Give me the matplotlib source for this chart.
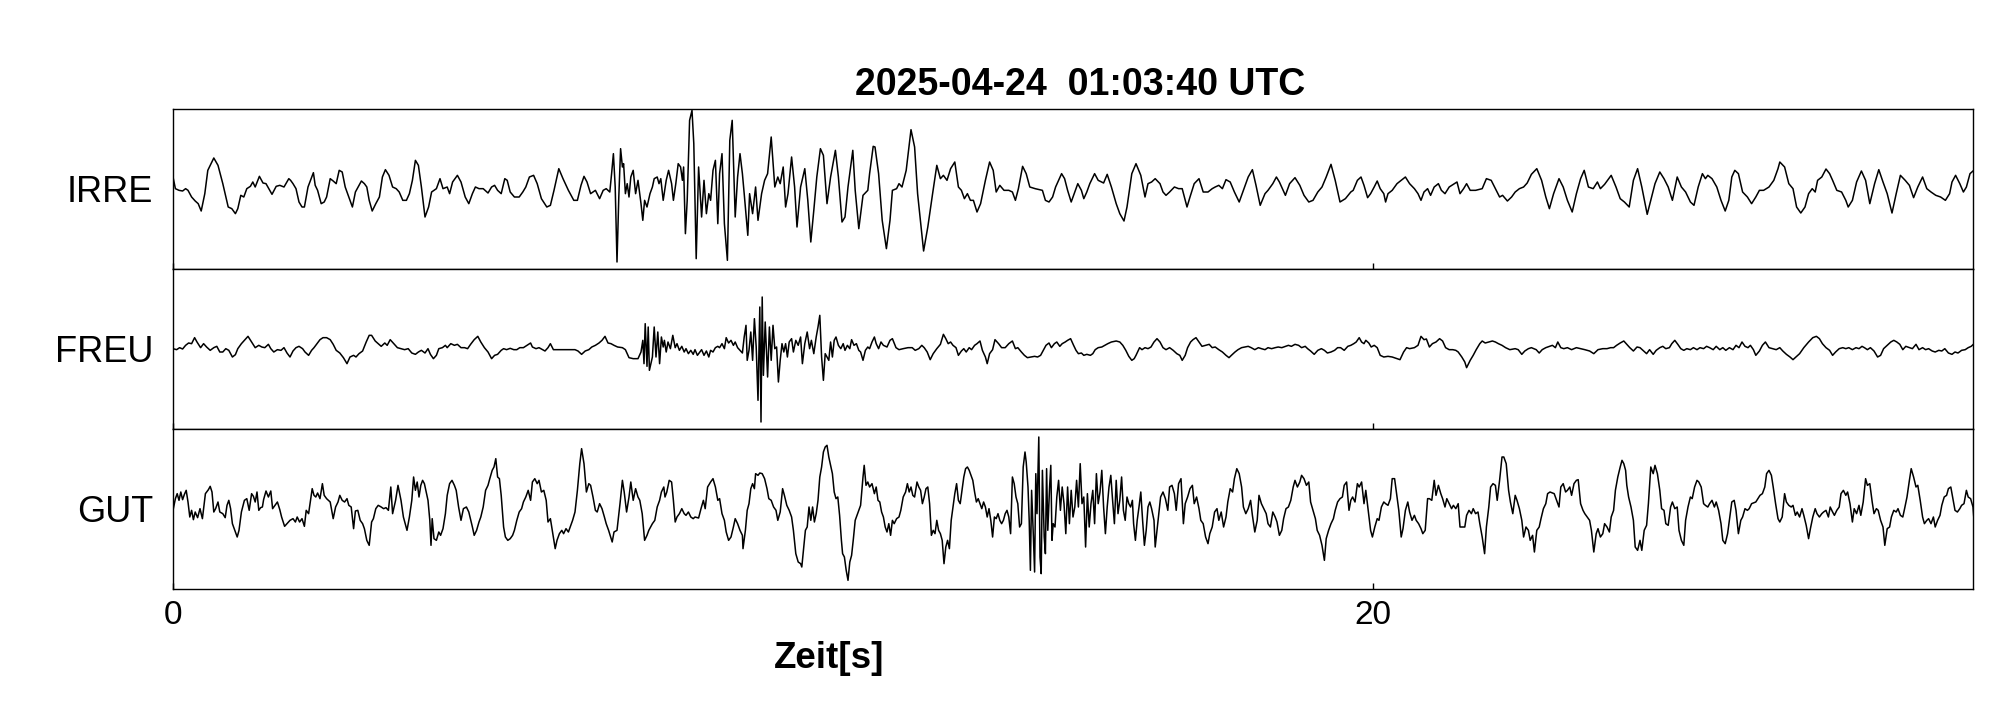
import numpy as np
import matplotlib
matplotlib.use("Agg")
import matplotlib.pyplot as plt

plt.rcParams['font.family'] = ['Liberation Sans', 'DejaVu Sans']

title = "2025-04-24  01:03:40 UTC"
xlabel = "Zeit[s]"
stations = ["IRRE", "FREU", "GUT"]
xticks = [0, 20]

# (time [s], amplitude [counts])
irre = [(0.00,36),(0.04,1),(0.10,-4),(0.16,-6),(0.21,1),(0.25,-4),(0.31,-24),(0.37,-36),(0.42,-44),(0.47,-66),
        (0.53,-14),(0.58,56),(0.68,93),(0.75,71),(0.83,16),(0.92,-54),(0.98,-59),(1.04,-74),(1.08,-59),(1.13,-19),
        (1.18,-24),(1.23,1),(1.29,8),(1.33,21),(1.37,6),(1.44,38),(1.50,18),(1.55,16),(1.65,-16),(1.72,8),
        (1.78,11),(1.85,6),(1.93,31),(1.96,26),(2.00,16),(2.05,1),(2.10,-39),(2.15,-54),(2.19,-54),(2.25,6),
        (2.34,49),(2.37,11),(2.41,-4),(2.47,-44),(2.52,-39),(2.56,-24),(2.62,31),(2.67,24),(2.72,16),(2.77,56),
        (2.82,51),(2.87,6),(2.95,-34),(2.99,-54),(3.04,-9),(3.14,24),(3.19,16),(3.23,6),(3.27,-34),(3.32,-66),
        (3.38,-44),(3.44,-24),(3.49,36),(3.54,58),(3.60,41),(3.66,6),(3.72,1),(3.77,-9),(3.83,-34),(3.89,-34),
        (3.94,-14),(3.99,26),(4.04,86),(4.09,71),(4.14,6),(4.20,-84),(4.26,-54),(4.31,-9),(4.39,1),(4.45,31),
        (4.50,1),(4.57,6),(4.61,-14),(4.66,21),(4.74,41),(4.80,21),(4.87,-24),(4.93,-44),(4.99,-14),(5.04,6),
        (5.10,1),(5.17,1),(5.25,-12),(5.31,6),(5.36,11),(5.41,-4),(5.47,-14),(5.53,31),(5.57,26),(5.62,-9),
        (5.69,-24),(5.77,-24),(5.83,-9),(5.88,6),(5.94,36),(6.01,41),(6.07,16),(6.14,-29),(6.23,-54),(6.29,-49),
        (6.35,-4),(6.43,61),(6.50,31),(6.59,-4),(6.68,-34),(6.74,-34),(6.80,11),(6.85,38),(6.90,21),(6.96,-14),
        (7.04,-4),(7.11,-29),(7.17,-4),(7.22,1),(7.28,-9),(7.31,46),(7.34,106),(7.37,6),(7.40,-219),(7.43,-24),
        (7.46,121),(7.49,66),(7.51,76),(7.54,-14),(7.57,16),(7.60,-24),(7.63,36),(7.67,56),(7.71,-14),(7.75,26),
        (7.80,-44),(7.83,-94),(7.86,-34),(7.90,-54),(7.95,-14),(7.99,6),(8.02,31),(8.07,36),(8.10,16),(8.13,31),
        (8.17,-34),(8.22,26),(8.26,56),(8.31,16),(8.34,-34),(8.38,16),(8.42,76),(8.46,66),(8.49,26),(8.51,66),
        (8.54,-134),(8.57,-34),(8.61,206),(8.65,236),(8.68,136),(8.72,-209),(8.76,66),(8.81,-84),(8.85,26),(8.89,-74),
        (8.93,-14),(8.96,-34),(9.00,56),(9.04,86),(9.08,-104),(9.11,46),(9.15,106),(9.19,-104),(9.24,-214),(9.28,146),
        (9.32,206),(9.37,-84),(9.41,36),(9.45,106),(9.49,46),(9.52,-14),(9.58,-139),(9.61,-14),(9.66,-74),(9.71,6),
        (9.75,-94),(9.81,-14),(9.86,26),(9.91,46),(9.97,156),(10.03,6),(10.08,36),(10.12,16),(10.17,66),(10.21,-54),
        (10.25,-14),(10.31,96),(10.36,6),(10.40,-114),(10.46,6),(10.53,61),(10.58,-34),(10.63,-159),(10.68,-64),(10.73,36),
        (10.79,121),(10.84,101),(10.90,-44),(10.96,36),(11.04,116),(11.09,36),(11.15,-99),(11.20,-84),(11.25,6),(11.33,116),
        (11.37,-4),(11.43,-119),(11.50,-19),(11.58,-4),(11.61,46),(11.67,128),(11.70,126),(11.76,46),(11.82,-94),(11.89,-179),
        (11.95,-94),(11.99,-4),(12.06,1),(12.10,16),(12.15,6),(12.22,56),(12.30,178),(12.36,126),(12.41,-14),(12.51,-186),
        (12.58,-114),(12.66,-14),(12.73,71),(12.79,31),(12.84,41),(12.90,26),(12.96,61),(13.03,81),(13.09,6),(13.14,-4),
        (13.19,-29),(13.24,-14),(13.29,-34),(13.34,-34),(13.40,-69),(13.46,-44),(13.54,26),(13.61,81),(13.67,56),(13.72,-9),
        (13.78,11),(13.85,-4),(13.93,-4),(13.99,-9),(14.04,-34),(14.09,1),(14.16,68),(14.22,46),(14.28,6),(14.37,1),
        (14.49,-4),(14.54,-34),(14.60,-39),(14.66,-24),(14.71,6),(14.81,46),(14.86,31),(14.91,-4),(14.97,-39),(15.03,-9),
        (15.08,16),(15.14,-4),(15.18,-29),(15.23,-9),(15.28,16),(15.36,46),(15.42,26),(15.51,18),(15.57,44),(15.64,6),
        (15.72,-44),(15.78,-74),(15.85,-96),(15.90,-54),(15.98,46),(16.05,76),(16.13,41),(16.20,-24),(16.25,16),(16.31,21),
        (16.37,31),(16.45,16),(16.50,-9),(16.55,-19),(16.61,-9),(16.69,6),(16.76,1),(16.82,1),(16.90,-54),(16.95,-24),
        (17.02,16),(17.10,31),(17.17,-9),(17.25,-9),(17.32,1),(17.37,6),(17.43,11),(17.49,1),(17.55,28),(17.62,21),
        (17.69,-9),(17.77,-39),(17.84,-4),(17.92,36),(17.99,58),(18.05,11),(18.12,-49),(18.20,-14),(18.25,-4),(18.33,16),
        (18.39,36),(18.44,21),(18.54,-19),(18.61,16),(18.70,34),(18.78,11),(18.85,-19),(18.93,-39),(19.00,-34),(19.08,-9),
        (19.15,6),(19.22,36),(19.30,74),(19.37,26),(19.45,-39),(19.54,-29),(19.63,-9),(19.67,-4),(19.74,26),(19.80,36),
        (19.85,11),(19.91,-26),(19.96,-14),(20.02,6),(20.07,24),(20.12,1),(20.18,-14),(20.21,-39),(20.25,-14),(20.32,-4),
        (20.40,16),(20.47,26),(20.54,36),(20.61,16),(20.69,1),(20.75,-14),(20.80,-34),(20.85,-9),(20.91,1),(20.96,-19),
        (21.02,6),(21.09,16),(21.14,-4),(21.20,-14),(21.27,6),(21.34,14),(21.40,21),(21.45,-14),(21.51,1),(21.56,16),
        (21.62,-4),(21.71,-4),(21.82,1),(21.89,31),(21.97,26),(22.04,1),(22.11,-24),(22.16,-19),(22.24,-36),(22.31,-24),
        (22.37,-9),(22.44,1),(22.51,6),(22.57,18),(22.64,44),(22.73,61),(22.81,26),(22.88,-24),(22.94,-59),(23.01,-14),
        (23.10,31),(23.17,6),(23.24,-34),(23.32,-69),(23.39,-14),(23.46,31),(23.52,56),(23.59,6),(23.67,1),(23.74,21),
        (23.79,1),(23.86,14),(23.97,41),(24.05,6),(24.12,-29),(24.19,-39),(24.27,-54),(24.34,26),(24.41,61),(24.48,6),
        (24.57,-76),(24.63,-34),(24.70,16),(24.78,51),(24.85,31),(24.92,6),(24.99,-34),(25.07,36),(25.14,6),(25.21,-9),
        (25.29,-39),(25.35,-49),(25.42,6),(25.49,46),(25.54,31),(25.58,41),(25.65,31),(25.73,6),(25.80,-34),(25.87,-66),
        (25.93,-34),(25.98,36),(26.03,56),(26.09,46),(26.16,-9),(26.24,-24),(26.31,-44),(26.38,-24),(26.44,-4),(26.51,-4),
        (26.60,6),(26.68,26),(26.75,61),(26.78,81),(26.86,66),(26.93,16),(27.00,1),(27.06,-54),(27.13,-72),(27.20,-54),
        (27.26,-14),(27.32,1),(27.37,-9),(27.41,26),(27.48,36),(27.55,60),(27.61,46),(27.66,26),(27.73,-4),(27.81,-9),
        (27.88,-34),(27.92,-54),(27.99,-34),(28.06,21),(28.14,54),(28.21,26),(28.28,-44),(28.36,16),(28.43,58),(28.50,21),
        (28.57,-14),(28.65,-72),(28.72,-14),(28.79,41),(28.87,26),(28.94,11),(29.01,-26),(29.08,6),(29.16,36),(29.23,1),
        (29.30,-9),(29.38,-19),(29.46,-24),(29.54,-34),(29.61,-14),(29.65,21),(29.71,41),(29.78,16),(29.84,-9),(29.89,6),
        (29.95,46),(30.00,54)]

freu = [(0.00,1),(0.06,-2),(0.11,4),(0.16,0),(0.21,11),(0.26,18),(0.31,16),(0.36,34),(0.40,21),(0.46,4),
        (0.51,16),(0.56,6),(0.62,-4),(0.68,4),(0.73,8),(0.78,-9),(0.83,-9),(0.88,1),(0.93,-4),(0.99,-24),
        (1.04,-17),(1.08,1),(1.14,16),(1.20,28),(1.25,38),(1.31,21),(1.37,4),(1.43,11),(1.48,6),(1.53,4),
        (1.59,14),(1.63,1),(1.68,-9),(1.74,-2),(1.80,-4),(1.85,4),(1.90,-12),(1.95,-24),(2.00,-6),(2.05,4),
        (2.10,8),(2.16,1),(2.20,-9),(2.26,-19),(2.31,-4),(2.35,4),(2.40,16),(2.45,28),(2.50,34),(2.56,34),
        (2.62,28),(2.67,14),(2.72,-4),(2.78,-12),(2.84,-26),(2.90,-44),(2.95,-24),(3.01,-19),(3.05,-24),(3.10,-14),
        (3.16,-6),(3.22,21),(3.27,41),(3.31,41),(3.37,24),(3.42,16),(3.47,8),(3.53,18),(3.57,11),(3.62,28),
        (3.68,16),(3.74,4),(3.80,1),(3.86,-2),(3.92,1),(3.98,-12),(4.04,-16),(4.09,-9),(4.14,-4),(4.20,-12),
        (4.25,1),(4.29,-16),(4.34,-29),(4.39,-19),(4.43,1),(4.49,4),(4.54,11),(4.57,4),(4.63,16),(4.69,11),
        (4.74,14),(4.80,4),(4.86,4),(4.91,1),(4.96,14),(5.02,28),(5.08,38),(5.13,21),(5.19,4),(5.25,-9),
        (5.31,-29),(5.36,-19),(5.41,-16),(5.47,-4),(5.51,1),(5.56,-2),(5.62,2),(5.68,-2),(5.73,-2),(5.78,4),
        (5.84,4),(5.90,11),(5.96,18),(5.99,6),(6.05,1),(6.10,4),(6.16,-2),(6.20,-6),(6.25,4),(6.29,16),
        (6.34,-2),(6.40,-2),(6.51,-2),(6.63,-2),(6.70,-2),(6.75,-6),(6.81,-16),(6.87,-6),(6.93,-2),(6.98,6),
        (7.04,11),(7.10,18),(7.15,26),(7.20,38),(7.25,18),(7.30,16),(7.35,11),(7.41,6),(7.49,4),(7.54,-2),
        (7.60,-26),(7.67,-29),(7.75,-29),(7.80,-9),(7.83,26),(7.85,-44),(7.87,76),(7.90,-52),(7.92,66),(7.94,-64),
        (7.99,-24),(8.02,66),(8.05,-24),(8.08,51),(8.11,-44),(8.14,36),(8.17,6),(8.19,26),(8.22,-9),(8.25,21),
        (8.29,1),(8.33,41),(8.37,4),(8.40,16),(8.44,-4),(8.48,8),(8.52,-9),(8.55,1),(8.59,-14),(8.63,-4),
        (8.67,-16),(8.70,-2),(8.74,-19),(8.78,-9),(8.81,-2),(8.85,-19),(8.89,-6),(8.93,-24),(8.96,-4),(9.00,-9),
        (9.04,4),(9.08,8),(9.11,4),(9.15,16),(9.19,1),(9.22,34),(9.26,18),(9.30,26),(9.34,11),(9.37,21),
        (9.41,4),(9.45,-4),(9.49,-12),(9.52,36),(9.55,71),(9.57,-34),(9.60,-4),(9.63,51),(9.66,-34),(9.69,91),
        (9.72,6),(9.75,-154),(9.78,126),(9.80,-219),(9.82,156),(9.84,-79),(9.87,81),(9.91,-84),(9.94,66),(9.97,-34),
        (10.00,71),(10.03,1),(10.06,6),(10.09,-99),(10.12,-34),(10.15,16),(10.18,-9),(10.21,16),(10.24,-24),(10.27,21),
        (10.31,31),(10.34,-9),(10.38,26),(10.42,11),(10.46,36),(10.49,-44),(10.53,16),(10.57,51),(10.61,1),(10.64,26),
        (10.68,-14),(10.72,36),(10.75,66),(10.78,101),(10.81,-24),(10.84,-94),(10.87,-14),(10.90,-24),(10.93,-34),(10.96,21),
        (10.99,-24),(11.02,26),(11.05,36),(11.09,11),(11.13,1),(11.17,16),(11.20,-4),(11.24,11),(11.28,1),(11.31,28),
        (11.35,11),(11.39,16),(11.43,-4),(11.46,-9),(11.50,-34),(11.54,-4),(11.58,6),(11.61,1),(11.65,21),(11.69,36),
        (11.72,16),(11.76,1),(11.80,21),(11.84,11),(11.90,6),(11.95,26),(11.99,31),(12.05,4),(12.10,-2),(12.17,1),
        (12.25,4),(12.32,4),(12.37,-4),(12.43,1),(12.48,11),(12.52,4),(12.57,-9),(12.62,-32),(12.67,-14),(12.73,1),
        (12.79,14),(12.84,44),(12.88,31),(12.92,16),(12.96,21),(13.00,11),(13.05,4),(13.09,-19),(13.14,-6),(13.18,1),
        (13.22,-9),(13.27,4),(13.31,-2),(13.36,11),(13.40,16),(13.45,24),(13.49,-4),(13.54,-24),(13.57,-44),(13.61,-14),
        (13.66,-2),(13.70,28),(13.76,16),(13.81,4),(13.87,4),(13.93,16),(13.99,24),(14.04,1),(14.08,4),(14.14,-9),
        (14.19,-19),(14.24,-26),(14.30,-24),(14.36,-22),(14.41,-24),(14.46,-19),(14.51,-2),(14.55,11),(14.60,18),(14.64,4),
        (14.69,16),(14.73,21),(14.78,8),(14.82,16),(14.87,21),(14.91,26),(14.96,31),(15.01,11),(15.05,-4),(15.09,-14),
        (15.14,-12),(15.18,-19),(15.23,-16),(15.29,-19),(15.33,-14),(15.37,-2),(15.42,4),(15.48,6),(15.53,11),(15.58,16),
        (15.64,21),(15.72,24),(15.78,21),(15.83,11),(15.88,-4),(15.93,-22),(15.98,-34),(16.02,-29),(16.05,-19),(16.11,4),
        (16.15,-2),(16.20,4),(16.25,1),(16.30,6),(16.35,21),(16.40,31),(16.45,21),(16.50,4),(16.55,-2),(16.61,4),
        (16.67,-4),(16.73,-14),(16.78,-19),(16.82,-34),(16.87,-19),(16.91,4),(16.96,21),(17.00,28),(17.05,34),(17.10,21),
        (17.15,8),(17.21,11),(17.27,14),(17.32,4),(17.37,6),(17.43,-2),(17.49,-9),(17.55,-19),(17.60,-26),(17.64,-19),
        (17.70,-9),(17.75,-2),(17.81,4),(17.87,6),(17.92,8),(17.97,4),(18.03,-2),(18.09,4),(18.14,1),(18.20,-2),
        (18.25,4),(18.31,1),(18.37,4),(18.42,6),(18.48,4),(18.54,8),(18.59,11),(18.64,8),(18.70,14),(18.76,11),
        (18.81,4),(18.87,8),(18.91,1),(18.96,-6),(19.02,-16),(19.08,-4),(19.14,1),(19.19,-4),(19.24,-12),(19.30,-9),
        (19.36,-4),(19.41,4),(19.46,4),(19.52,-4),(19.58,8),(19.63,11),(19.68,16),(19.72,21),(19.77,34),(19.81,21),
        (19.85,16),(19.88,26),(19.93,18),(19.97,6),(20.02,11),(20.07,4),(20.12,-19),(20.18,-24),(20.25,-22),(20.32,-24),
        (20.40,-29),(20.45,-32),(20.51,-9),(20.56,4),(20.61,1),(20.69,4),(20.75,11),(20.80,38),(20.85,28),(20.89,30),
        (20.94,6),(20.99,16),(21.05,21),(21.11,31),(21.16,24),(21.21,4),(21.27,-2),(21.33,-2),(21.38,-4),(21.42,-9),
        (21.48,-24),(21.53,-39),(21.56,-56),(21.62,-34),(21.67,-19),(21.72,-2),(21.78,16),(21.82,24),(21.87,18),(21.93,21),
        (21.99,24),(22.04,21),(22.09,16),(22.15,11),(22.21,4),(22.28,-2),(22.37,1),(22.42,-2),(22.48,-16),(22.53,-6),
        (22.59,1),(22.64,4),(22.72,-2),(22.77,-12),(22.82,-2),(22.88,4),(22.94,8),(22.99,11),(23.04,4),(23.08,21),
        (23.13,4),(23.18,1),(23.24,4),(23.31,-2),(23.39,4),(23.46,1),(23.53,-2),(23.61,-6),(23.68,-14),(23.75,-2),
        (23.83,1),(23.90,1),(23.96,4),(24.01,4),(24.06,11),(24.12,18),(24.18,24),(24.23,14),(24.28,4),(24.34,-6),
        (24.40,6),(24.45,4),(24.50,-4),(24.56,-14),(24.61,-2),(24.67,-16),(24.72,-4),(24.78,4),(24.83,8),(24.88,1),
        (24.94,4),(24.98,16),(25.03,26),(25.08,14),(25.13,1),(25.18,-4),(25.23,1),(25.29,-2),(25.34,4),(25.40,-2),
        (25.45,4),(25.51,1),(25.56,8),(25.61,4),(25.67,-2),(25.72,8),(25.78,-2),(25.83,4),(25.88,-4),(25.94,4),
        (26.00,-2),(26.05,11),(26.10,4),(26.15,21),(26.20,8),(26.25,4),(26.29,11),(26.34,-2),(26.38,-19),(26.44,-6),
        (26.49,11),(26.54,21),(26.60,4),(26.66,1),(26.72,-2),(26.78,4),(26.83,-6),(26.89,-16),(26.95,-24),(27.00,-32),
        (27.05,-24),(27.11,-14),(27.18,4),(27.26,21),(27.33,34),(27.39,38),(27.44,31),(27.49,16),(27.55,4),(27.61,-4),
        (27.66,-19),(27.71,-9),(27.77,1),(27.83,4),(27.88,1),(27.93,4),(27.99,-2),(28.05,4),(28.10,1),(28.15,8),
        (28.19,4),(28.24,-2),(28.29,4),(28.35,-6),(28.41,-24),(28.46,-19),(28.51,1),(28.57,11),(28.63,21),(28.68,26),
        (28.73,21),(28.78,14),(28.83,-2),(28.88,8),(28.94,4),(28.99,1),(29.05,14),(29.10,-2),(29.16,4),(29.21,-2),
        (29.26,1),(29.32,-6),(29.37,-9),(29.43,-4),(29.48,-6),(29.53,1),(29.59,-12),(29.65,-16),(29.70,-9),(29.75,-12),
        (29.81,-4),(29.87,-2),(29.92,4),(29.97,8),(30.03,18)]

gut = [(0.00,-4),(0.04,31),(0.07,46),(0.10,26),(0.13,51),(0.16,28),(0.19,44),(0.22,56),(0.25,21),(0.28,-24),
       (0.31,-4),(0.34,-32),(0.37,-9),(0.41,-26),(0.45,1),(0.49,-29),(0.51,1),(0.54,46),(0.59,58),(0.62,68),
       (0.65,51),(0.68,-9),(0.71,1),(0.75,21),(0.78,-9),(0.83,-14),(0.87,-26),(0.90,11),(0.93,26),(0.96,1),
       (0.99,-44),(1.03,-64),(1.07,-84),(1.10,-64),(1.14,-9),(1.19,26),(1.23,31),(1.27,-4),(1.31,46),(1.34,38),
       (1.37,21),(1.40,51),(1.43,-4),(1.46,4),(1.49,6),(1.51,28),(1.55,54),(1.59,36),(1.63,54),(1.66,1),
       (1.70,11),(1.74,21),(1.78,-2),(1.81,-24),(1.86,-52),(1.90,-44),(1.95,-34),(2.00,-29),(2.04,-39),(2.07,-24),
       (2.11,-39),(2.15,-29),(2.19,-52),(2.22,-4),(2.26,-14),(2.30,36),(2.32,61),(2.35,41),(2.38,36),(2.41,48),
       (2.45,31),(2.49,76),(2.52,41),(2.56,31),(2.62,21),(2.67,-29),(2.71,6),(2.75,21),(2.78,41),(2.82,26),
       (2.86,21),(2.90,31),(2.93,11),(2.97,6),(3.01,-59),(3.04,-6),(3.08,-4),(3.12,-34),(3.16,-44),(3.19,-59),
       (3.23,-94),(3.27,-109),(3.31,-39),(3.34,-29),(3.38,1),(3.42,11),(3.47,6),(3.51,1),(3.55,4),(3.59,-4),
       (3.63,66),(3.66,-14),(3.71,26),(3.75,71),(3.80,26),(3.84,-24),(3.90,-64),(3.94,-24),(3.98,26),(4.01,96),
       (4.04,56),(4.07,81),(4.10,36),(4.13,71),(4.16,86),(4.19,76),(4.22,51),(4.25,26),(4.28,-34),(4.30,-109),
       (4.32,-29),(4.35,-89),(4.39,-94),(4.43,-69),(4.46,-79),(4.50,-59),(4.54,-14),(4.57,41),(4.61,76),(4.65,86),
       (4.69,71),(4.72,56),(4.76,6),(4.80,-34),(4.84,1),(4.89,6),(4.93,-9),(4.99,-54),(5.02,-79),(5.06,-64),
       (5.10,-39),(5.13,-24),(5.17,6),(5.21,56),(5.25,71),(5.28,91),(5.32,116),(5.35,126),(5.38,151),(5.41,96),
       (5.44,91),(5.47,41),(5.51,-54),(5.54,-84),(5.58,-94),(5.62,-89),(5.66,-79),(5.69,-64),(5.73,-34),(5.77,-9),
       (5.81,1),(5.84,21),(5.88,36),(5.92,56),(5.96,26),(5.99,81),(6.03,91),(6.07,76),(6.10,86),(6.14,51),
       (6.18,56),(6.22,26),(6.25,-39),(6.29,-29),(6.33,-74),(6.37,-119),(6.40,-94),(6.44,-74),(6.48,-64),(6.51,-74),
       (6.55,-59),(6.59,-69),(6.63,-49),(6.66,-34),(6.70,-9),(6.74,56),(6.78,136),(6.81,181),(6.85,136),(6.89,51),
       (6.93,76),(6.96,71),(7.00,36),(7.04,-4),(7.07,-9),(7.11,16),(7.15,1),(7.19,-24),(7.22,-44),(7.26,-64),
       (7.32,-99),(7.35,-69),(7.40,-64),(7.45,16),(7.49,86),(7.52,51),(7.56,-9),(7.60,36),(7.63,81),(7.67,26),
       (7.71,61),(7.75,36),(7.78,26),(7.82,-14),(7.86,-94),(7.90,-79),(7.93,-64),(7.99,-44),(8.03,-34),(8.07,6),
       (8.11,26),(8.14,51),(8.18,66),(8.20,36),(8.23,51),(8.27,86),(8.31,81),(8.34,26),(8.37,-39),(8.40,-24),
       (8.44,-14),(8.48,1),(8.52,-14),(8.55,-19),(8.59,-9),(8.63,-24),(8.67,-29),(8.70,-24),(8.76,-27),(8.80,1),
       (8.84,26),(8.87,1),(8.91,66),(8.96,81),(9.00,91),(9.04,66),(9.08,26),(9.11,31),(9.15,-14),(9.19,-34),
       (9.22,-69),(9.26,-94),(9.30,-84),(9.34,-54),(9.37,-29),(9.41,-44),(9.45,-64),(9.49,-79),(9.50,-119),(9.54,-64),
       (9.57,-4),(9.60,16),(9.63,61),(9.66,76),(9.69,61),(9.71,106),(9.75,101),(9.78,108),(9.82,106),(9.86,91),
       (9.90,61),(9.93,31),(9.97,26),(10.01,6),(10.05,-4),(10.08,-34),(10.12,-9),(10.16,61),(10.19,41),(10.23,11),
       (10.27,-4),(10.31,-24),(10.34,-64),(10.38,-134),(10.42,-159),(10.46,-164),(10.48,-174),(10.51,-119),(10.54,-64),(10.57,-54),
       (10.60,6),(10.63,-34),(10.66,6),(10.69,-39),(10.72,-14),(10.75,26),(10.78,96),(10.81,126),(10.84,171),(10.87,186),
       (10.90,191),(10.93,156),(10.96,131),(10.99,106),(11.02,51),(11.05,31),(11.08,36),(11.11,-19),(11.14,-94),(11.16,-134),
       (11.19,-144),(11.22,-184),(11.25,-214),(11.28,-159),(11.31,-139),(11.34,-89),(11.37,-34),(11.40,-19),(11.43,-4),(11.46,11),
       (11.50,96),(11.52,131),(11.55,71),(11.58,81),(11.61,66),(11.65,76),(11.69,46),(11.72,66),(11.75,26),(11.78,21),
       (11.81,-9),(11.84,-24),(11.87,-54),(11.90,-69),(11.93,-44),(11.96,-79),(11.99,-34),(12.02,-44),(12.06,-29),(12.10,-24),
       (12.13,-4),(12.17,36),(12.21,51),(12.24,76),(12.27,51),(12.30,66),(12.33,41),(12.36,36),(12.40,81),(12.43,66),
       (12.46,56),(12.49,16),(12.52,36),(12.55,61),(12.58,66),(12.61,16),(12.64,-79),(12.67,-64),(12.70,-74),(12.73,-34),
       (12.76,-64),(12.79,-74),(12.82,-94),(12.85,-164),(12.88,-114),(12.91,-94),(12.94,-119),(12.97,-34),(13.00,6),(13.03,46),
       (13.06,76),(13.09,26),(13.12,16),(13.15,56),(13.18,96),(13.21,121),(13.24,126),(13.27,116),(13.30,101),(13.33,86),
       (13.36,51),(13.39,21),(13.42,31),(13.45,16),(13.48,1),(13.51,21),(13.54,6),(13.57,-24),(13.60,1),(13.63,-34),
       (13.66,-84),(13.69,-24),(13.72,-29),(13.75,-14),(13.78,-34),(13.81,-44),(13.84,-34),(13.87,-14),(13.90,-4),(13.93,-24),
       (13.96,-74),(13.99,96),(14.02,76),(14.05,36),(14.08,16),(14.11,-54),(14.14,-44),(14.17,126),(14.20,171),(14.22,141),
       (14.25,66),(14.27,-34),(14.29,-184),(14.31,56),(14.34,-84),(14.36,-189),(14.38,106),(14.40,-14),(14.43,216),(14.45,-144),
       (14.47,-194),(14.49,116),(14.52,-84),(14.54,-134),(14.56,121),(14.58,-64),(14.61,66),(14.63,131),(14.65,-94),(14.67,-44),
       (14.70,-54),(14.73,36),(14.76,86),(14.79,-4),(14.82,66),(14.85,16),(14.88,-74),(14.91,66),(14.94,-44),(14.97,56),
       (15.00,-24),(15.03,6),(15.06,86),(15.09,6),(15.12,136),(15.15,16),(15.18,36),(15.21,-114),(15.24,46),(15.27,-54),
       (15.30,16),(15.33,56),(15.36,-44),(15.39,106),(15.42,16),(15.45,51),(15.48,116),(15.51,6),(15.54,-74),(15.57,6),
       (15.60,66),(15.63,101),(15.66,26),(15.69,-44),(15.72,86),(15.75,-14),(15.78,26),(15.81,96),(15.84,-4),(15.87,-34),
       (15.90,36),(15.93,16),(15.96,6),(15.99,26),(16.01,-44),(16.04,-94),(16.07,-34),(16.10,6),(16.13,51),(16.16,-34),
       (16.19,-109),(16.22,-64),(16.25,6),(16.28,21),(16.31,1),(16.35,-34),(16.37,-114),(16.40,-64),(16.43,-14),(16.46,36),
       (16.50,51),(16.54,31),(16.58,-4),(16.61,66),(16.65,71),(16.69,46),(16.72,-4),(16.76,76),(16.80,91),(16.84,-44),
       (16.87,16),(16.91,36),(16.95,61),(16.99,71),(17.02,16),(17.06,36),(17.10,1),(17.13,-34),(17.17,-44),(17.21,-84),
       (17.25,-104),(17.28,-74),(17.32,-54),(17.36,-9),(17.40,1),(17.43,-34),(17.47,-9),(17.51,-54),(17.55,-24),(17.58,21),
       (17.62,61),(17.66,51),(17.69,91),(17.73,121),(17.77,106),(17.81,66),(17.84,6),(17.88,-14),(17.92,1),(17.96,26),
       (17.99,-19),(18.03,-69),(18.07,-34),(18.10,41),(18.14,16),(18.18,1),(18.22,-14),(18.25,-44),(18.29,-54),(18.33,-9),
       (18.37,-24),(18.40,-39),(18.44,-79),(18.48,-64),(18.51,-29),(18.55,1),(18.59,6),(18.63,26),(18.67,66),(18.70,86),
       (18.74,66),(18.78,81),(18.81,101),(18.85,91),(18.89,71),(18.93,81),(18.96,21),(19.00,-4),(19.04,-29),(19.07,-64),
       (19.11,-79),(19.15,-109),(19.19,-154),(19.22,-89),(19.26,-64),(19.30,-44),(19.34,-29),(19.37,-4),(19.41,21),(19.45,31),
       (19.49,36),(19.52,71),(19.56,81),(19.60,-4),(19.63,26),(19.66,36),(19.70,21),(19.74,76),(19.77,66),(19.81,81),
       (19.85,16),(19.88,56),(19.92,-4),(19.96,-64),(19.99,-84),(20.03,-54),(20.07,-29),(20.10,-34),(20.14,6),(20.18,21),
       (20.21,16),(20.25,11),(20.29,31),(20.32,91),(20.36,91),(20.40,36),(20.43,-4),(20.47,-84),(20.50,-59),(20.54,-4),
       (20.58,21),(20.61,-9),(20.65,-34),(20.69,-19),(20.72,-34),(20.76,-44),(20.80,-59),(20.83,-74),(20.87,-64),(20.91,31),
       (20.94,31),(20.98,26),(21.02,86),(21.05,41),(21.09,71),(21.13,46),(21.16,31),(21.20,6),(21.23,31),(21.27,16),
       (21.31,1),(21.34,11),(21.38,1),(21.42,16),(21.45,-54),(21.49,-54),(21.53,-54),(21.56,-19),(21.60,-4),(21.64,-14),
       (21.67,1),(21.71,-14),(21.75,-9),(21.78,-44),(21.82,-84),(21.86,-134),(21.89,-54),(21.93,6),(21.96,66),(22.00,76),
       (22.04,71),(22.07,26),(22.11,86),(22.15,156),(22.18,156),(22.22,136),(22.26,56),(22.29,21),(22.33,-14),(22.37,41),
       (22.40,26),(22.44,1),(22.48,-34),(22.51,-84),(22.55,-54),(22.59,-64),(22.62,-94),(22.66,-79),(22.69,-129),(22.73,-64),
       (22.77,-54),(22.80,-29),(22.84,1),(22.88,16),(22.91,46),(22.95,51),(22.99,48),(23.02,46),(23.06,26),(23.10,6),
       (23.13,66),(23.17,76),(23.21,51),(23.24,56),(23.28,66),(23.31,41),(23.35,76),(23.39,86),(23.42,88),(23.46,16),
       (23.50,-4),(23.53,-14),(23.57,-24),(23.61,-34),(23.64,-64),(23.68,-129),(23.72,-74),(23.75,-59),(23.79,-84),(23.83,-74),
       (23.86,-44),(23.90,-54),(23.94,-69),(23.97,-24),(24.01,-4),(24.04,56),(24.08,96),(24.12,126),(24.15,146),(24.18,136),
       (24.21,116),(24.23,71),(24.26,36),(24.30,6),(24.34,-34),(24.37,-114),(24.41,-124),(24.45,-94),(24.48,-124),(24.52,-64),
       (24.56,-49),(24.59,16),(24.63,126),(24.67,106),(24.70,131),(24.74,106),(24.78,56),(24.81,1),(24.85,-4),(24.88,-44),
       (24.92,-49),(24.96,6),(24.99,21),(25.03,1),(25.07,6),(25.10,-64),(25.14,-94),(25.18,-109),(25.21,-34),(25.25,6),
       (25.29,36),(25.32,31),(25.36,66),(25.40,86),(25.43,81),(25.47,66),(25.51,16),(25.54,11),(25.58,6),(25.61,16),
       (25.65,26),(25.69,6),(25.72,21),(25.76,-4),(25.80,-44),(25.83,-94),(25.87,-104),(25.91,-74),(25.94,-34),(25.98,21),
       (26.02,26),(26.05,-4),(26.09,-74),(26.13,-34),(26.16,-24),(26.20,1),(26.24,-4),(26.27,1),(26.31,16),(26.38,21),
       (26.45,41),(26.49,46),(26.53,66),(26.56,106),(26.60,116),(26.64,101),(26.67,66),(26.71,16),(26.75,-29),(26.78,-39),
       (26.82,-24),(26.86,46),(26.89,21),(26.93,11),(26.97,6),(27.00,11),(27.04,-19),(27.07,-9),(27.11,-24),(27.15,1),
       (27.18,-19),(27.22,-49),(27.26,-89),(27.29,-59),(27.33,-24),(27.37,1),(27.40,-14),(27.44,-24),(27.48,-14),(27.51,-9),
       (27.55,-4),(27.59,-24),(27.62,6),(27.66,-9),(27.69,-19),(27.73,-4),(27.77,6),(27.80,46),(27.84,56),(27.88,41),
       (27.91,51),(27.95,16),(27.99,-39),(28.02,1),(28.06,-14),(28.10,11),(28.13,-19),(28.17,21),(28.21,91),(28.24,71),
       (28.28,76),(28.32,21),(28.35,-14),(28.39,1),(28.42,-4),(28.46,-34),(28.50,-54),(28.53,-109),(28.57,-59),(28.61,-54),
       (28.64,-24),(28.68,-4),(28.72,-9),(28.75,1),(28.79,-19),(28.83,-24),(28.86,1),(28.90,36),(28.94,86),(28.97,121),
       (29.01,96),(29.05,66),(29.08,71),(29.12,26),(29.16,-24),(29.19,-44),(29.23,-34),(29.26,-29),(29.30,-44),(29.34,-24),
       (29.37,-54),(29.41,-34),(29.45,-19),(29.48,11),(29.52,36),(29.56,41),(29.59,61),(29.63,66),(29.67,26),(29.70,-4),
       (29.74,-9),(29.78,1),(29.81,11),(29.85,16),(29.89,56),(29.92,36),(29.96,31),(30.00,6),(30.03,-64)]

traces = [irre, freu, gut]

fig = plt.figure(figsize=(20.05, 7.22), dpi=100)

left, width = 173 / 2005, 1800 / 2005
height = 160 / 722
bottoms = [1 - 269 / 722, 1 - 429 / 722, 1 - 589 / 722]

for i, (name, pts) in enumerate(zip(stations, traces)):
    ax = fig.add_axes([left, bottoms[i], width, height])
    t, a = np.array(pts, dtype=float).T
    ax.plot(t, a, color='black', lw=1.1)
    ax.set_xlim(0, 30)
    ax.set_ylim(-240, 240)
    ax.set_yticks([])
    ax.set_xticks(xticks)
    ax.tick_params(axis='x', direction='in', length=4, width=1, top=False,
                   labelsize=24, pad=8, labelbottom=(i == 2))
    for s in ax.spines.values():
        s.set_linewidth(1.0)
    ax.text(-20 / 1800, 0.5 - 13.3 / 160, name, transform=ax.transAxes,
            ha='right', va='baseline', fontsize=26)

fig.text(1080 / 2005, 1 - 95 / 722, title, ha='center', va='baseline',
         fontsize=27, fontweight='bold')
fig.text(829 / 2005, 1 - 668 / 722, xlabel, ha='center', va='baseline',
         fontsize=26.5, fontweight='bold')

fig.savefig("out.png", dpi=100)
